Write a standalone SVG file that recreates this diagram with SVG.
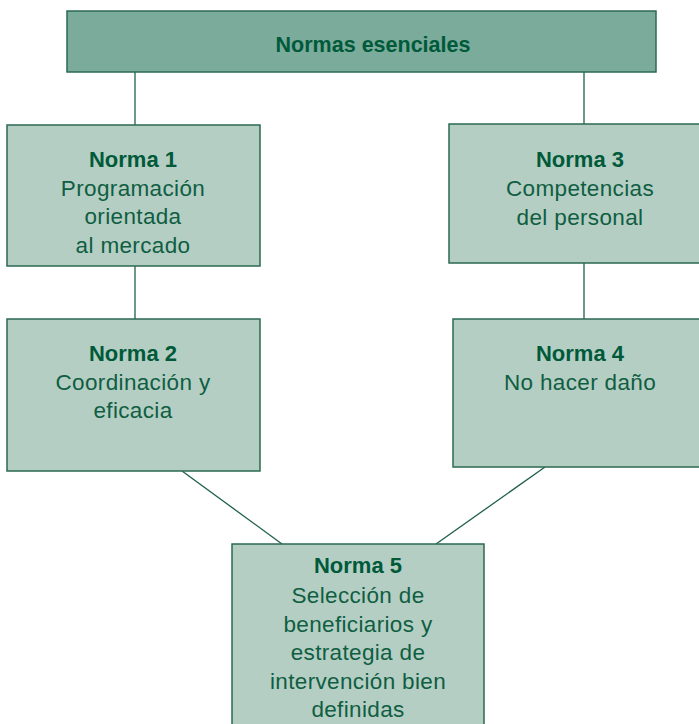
<svg xmlns="http://www.w3.org/2000/svg" width="699" height="724" viewBox="0 0 699 724">
<style>
.box{fill:#b5cec4;stroke:#2b6a52;stroke-width:1.5}
.top{fill:#7aab9b;stroke:#2b6a52;stroke-width:1.5}
.conn{stroke:#1f6048;stroke-width:1.3;fill:none}
text{font-family:"Liberation Sans",Arial,sans-serif;font-size:22.5px;letter-spacing:0.35px;fill:#0f5e42;text-anchor:middle}
.b{font-weight:bold;fill:#005a3a;font-size:22px;letter-spacing:0}
.t{font-size:21.5px}
</style>
<rect width="699" height="724" fill="#ffffff"/>
<g id="connectors">
<line class="conn" x1="135" y1="72" x2="135" y2="125"/>
<line class="conn" x1="584" y1="72" x2="584" y2="124"/>
<line class="conn" x1="135" y1="266" x2="135" y2="319"/>
<line class="conn" x1="584" y1="263" x2="584" y2="319"/>
<line class="conn" x1="182" y1="471" x2="282" y2="544"/>
<line class="conn" x1="545" y1="467" x2="436" y2="544"/>
</g>
<g id="top">
<rect class="top" x="67" y="11" width="589" height="61"/>
<text class="b t" x="373" y="52">Normas esenciales</text>
</g>
<g id="n1">
<rect class="box" x="7" y="125" width="253" height="141"/>
<text class="b" x="133" y="167">Norma 1</text>
<text x="133" y="196">Programación</text>
<text x="133" y="224">orientada</text>
<text x="133" y="253">al mercado</text>
</g>
<g id="n3">
<rect class="box" x="449" y="124" width="262" height="139"/>
<text class="b" x="580" y="167">Norma 3</text>
<text x="580" y="196">Competencias</text>
<text x="580" y="225">del personal</text>
</g>
<g id="n2">
<rect class="box" x="7" y="319" width="253" height="152"/>
<text class="b" x="133" y="361">Norma 2</text>
<text x="133" y="390">Coordinación y</text>
<text x="133" y="418">eficacia</text>
</g>
<g id="n4">
<rect class="box" x="453" y="319" width="254" height="148"/>
<text class="b" x="580" y="361">Norma 4</text>
<text x="580" y="390">No hacer daño</text>
</g>
<g id="n5">
<rect class="box" x="232" y="544" width="252" height="190"/>
<text class="b" x="358" y="573">Norma 5</text>
<text x="358" y="603">Selección de</text>
<text x="358" y="632">beneficiarios y</text>
<text x="358" y="660">estrategia de</text>
<text x="358" y="689">intervención bien</text>
<text x="358" y="717">definidas</text>
</g>
</svg>
